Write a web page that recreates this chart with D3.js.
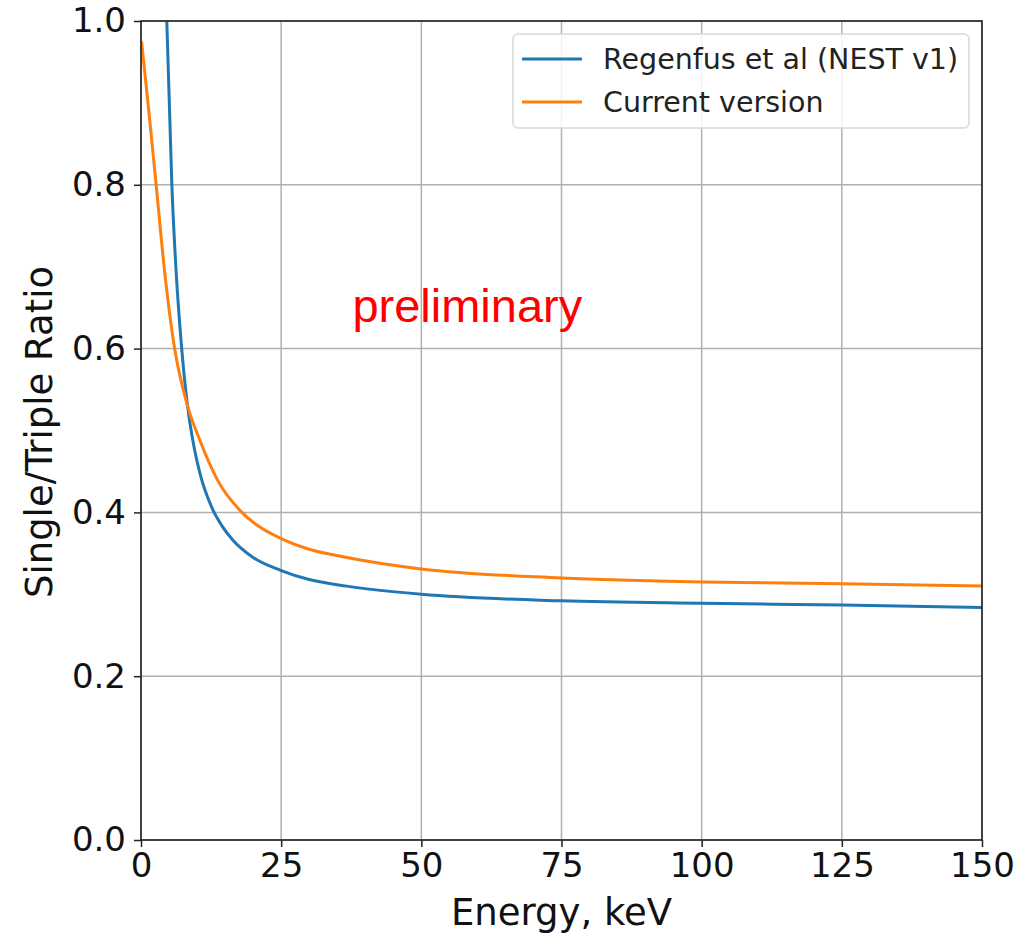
<!DOCTYPE html>
<html>
<head>
<meta charset="utf-8">
<script src="https://cdn.jsdelivr.net/npm/d3@7"></script>
<style>
  body { margin: 0; background: #fff; }
  text { font-family: "DejaVu Sans", sans-serif; }
</style>
</head>
<body>
<div id="chart"></div>
<script>
// values
const regenfus_energy = [4.6, 5.5, 6.3, 7.2, 8.3, 9.4, 10.5, 12.7, 14.5, 16.4, 20, 25, 30, 36.7, 50, 75, 100, 125, 150];
const regenfus_ratio  = [1.0, 0.80, 0.69, 0.605, 0.53, 0.482, 0.448, 0.405, 0.383, 0.366, 0.345, 0.329, 0.318, 0.310, 0.300, 0.292, 0.289, 0.287, 0.284];

const current_energy = [0.1, 1.5, 2.7, 4.2, 6.0, 8.3, 10.5, 13.6, 18, 21, 25, 30, 36.7, 50, 75, 100, 125, 150];
const current_ratio  = [0.975, 0.883, 0.80, 0.695, 0.60, 0.53, 0.488, 0.44, 0.40, 0.383, 0.368, 0.355, 0.345, 0.331, 0.320, 0.315, 0.313, 0.310];

const x_ticks = [0, 25, 50, 75, 100, 125, 150];
const y_ticks = [0.0, 0.2, 0.4, 0.6, 0.8, 1.0];

const series_names = ['Regenfus et al (NEST v1)', 'Current version'];
const series_colors = ['#1f77b4', '#ff7f0e'];

const margin = {top: 21, bottom: 93, left: 141, right: 47};
const width = 1029 - margin.left - margin.right;
const height = 933 - margin.top - margin.bottom;

const svg = d3.select('#chart')
   .append('svg')
   .attr('width', 1029)
   .attr('height', 933);

const chart = svg.append('g')
   .attr('transform', `translate(${margin.left}, ${margin.top})`);

const x_scale = d3.scaleLinear().domain([0, 150]).range([0, width]);
const y_scale = d3.scaleLinear().domain([0, 1]).range([height, 0]);

// grid
chart.append('g')
   .selectAll('line')
   .data(x_ticks)
   .join('line')
   .attr('x1', d => x_scale(d)).attr('x2', d => x_scale(d))
   .attr('y1', 0).attr('y2', height)
   .attr('stroke', '#b0b0b0').attr('stroke-width', 1.5);

chart.append('g')
   .selectAll('line')
   .data(y_ticks)
   .join('line')
   .attr('y1', d => y_scale(d)).attr('y2', d => y_scale(d))
   .attr('x1', 0).attr('x2', width)
   .attr('stroke', '#b0b0b0').attr('stroke-width', 1.5);

// curves
chart.append('clipPath').attr('id', 'plot-clip')
   .append('rect').attr('width', width).attr('height', height);

const series = [
   regenfus_energy.map((e, i) => [e, regenfus_ratio[i]]),
   current_energy.map((e, i) => [e, current_ratio[i]])
];

const line = d3.line()
   .x(d => x_scale(d[0]))
   .y(d => y_scale(d[1]))
   .curve(d3.curveMonotoneX);

chart.append('g')
   .attr('clip-path', 'url(#plot-clip)')
   .selectAll('path')
   .data(series)
   .join('path')
   .attr('d', line)
   .attr('fill', 'none')
   .attr('stroke', (d, i) => series_colors[i])
   .attr('stroke-width', 3);

// axes
const x_axis = d3.axisBottom(x_scale)
   .tickValues(x_ticks)
   .tickFormat(d3.format('d'))
   .tickSizeInner(7).tickSizeOuter(0).tickPadding(6);

const y_axis = d3.axisLeft(y_scale)
   .tickValues(y_ticks)
   .tickFormat(d3.format('.1f'))
   .tickSizeInner(7).tickSizeOuter(0).tickPadding(8);

const gx = chart.append('g')
   .attr('transform', `translate(0, ${height})`)
   .call(x_axis);
const gy = chart.append('g').call(y_axis);

[gx, gy].forEach(g => {
   g.select('.domain').remove();
   g.selectAll('line').attr('stroke', '#222').attr('stroke-width', 1.5);
   g.selectAll('text')
      .attr('fill', '#111')
      .style('font-size', '34px')
      .style('font-family', '"DejaVu Sans", sans-serif');
});

// spines
chart.append('rect')
   .attr('width', width).attr('height', height)
   .attr('fill', 'none')
   .attr('stroke', '#222').attr('stroke-width', 1.6);

// axis labels
svg.append('text')
   .attr('x', margin.left + width / 2)
   .attr('y', 925)
   .attr('text-anchor', 'middle')
   .style('font-size', '37px')
   .attr('fill', '#111')
   .text('Energy, keV');

svg.append('text')
   .attr('transform', 'translate(52, 432) rotate(-90)')
   .attr('text-anchor', 'middle')
   .style('font-size', '37px')
   .attr('fill', '#111')
   .text('Single/Triple Ratio');

// watermark
chart.append('text')
   .attr('x', x_scale(58.2))
   .attr('y', y_scale(0.633))
   .attr('text-anchor', 'middle')
   .style('font-family', '"Liberation Sans", Arial, sans-serif')
   .style('font-size', '47px')
   .attr('fill', '#ff0000')
   .text('preliminary');

// legend
const legend = chart.append('g')
   .attr('transform', `translate(${513 - margin.left}, ${34 - margin.top})`);

legend.append('rect')
   .attr('width', 456).attr('height', 94)
   .attr('rx', 5)
   .attr('fill', '#fff').attr('fill-opacity', 0.85)
   .attr('stroke', '#d8d8d8').attr('stroke-width', 1.5);

const entries = legend.selectAll('.entry')
   .data(series_names)
   .join('g')
   .attr('class', 'entry')
   .attr('transform', (d, i) => `translate(0, ${25 + i * 43})`);

entries.append('line')
   .attr('x1', 9).attr('x2', 69)
   .attr('stroke', (d, i) => series_colors[i])
   .attr('stroke-width', 3);

entries.append('text')
   .attr('x', 90)
   .attr('y', 10)
   .style('font-size', '28.5px')
   .attr('fill', '#222')
   .text(d => d);
</script>
</body>
</html>
